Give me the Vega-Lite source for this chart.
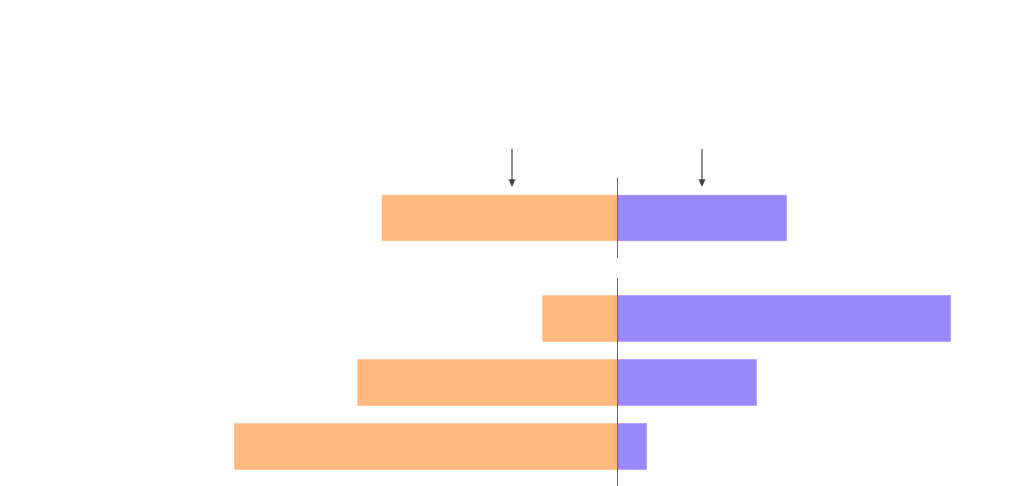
{
  "$schema": "https://vega.github.io/schema/vega-lite/v6.json",
  "padding": {"top": 148, "left": 0, "right": 0, "bottom": 0},
  "bounds": "flush",
  "config": {"view": {"stroke": null}},
  "datasets": {
    "bars": [
      {"section": "total", "row": "Total", "side": "left", "value": -23.6},
      {"section": "total", "row": "Total", "side": "right", "value": 16.95},
      {"section": "detail", "row": "A", "side": "left", "value": -7.55},
      {"section": "detail", "row": "A", "side": "right", "value": 33.35},
      {"section": "detail", "row": "B", "side": "left", "value": -26.05},
      {"section": "detail", "row": "B", "side": "right", "value": 13.95},
      {"section": "detail", "row": "C", "side": "left", "value": -38.35},
      {"section": "detail", "row": "C", "side": "right", "value": 2.95}
    ],
    "arrows": [
      {"label": "left", "value": -10.55},
      {"label": "right", "value": 8.45}
    ]
  },
  "spacing": 20,
  "vconcat": [
    {
      "width": 1024,
      "height": 80,
      "resolve": {"scale": {"y": "independent"}},
      "layer": [
        {
          "data": {"name": "bars"},
          "transform": [{"filter": "datum.section == 'total'"}],
          "mark": {"type": "bar", "stroke": "white", "strokeOpacity": 0.5, "strokeWidth": 1},
          "encoding": {
            "y": {"field": "row", "type": "nominal", "sort": null, "scale": {"paddingInner": 0.266, "paddingOuter": 0.266}, "axis": null},
            "x": {"field": "value", "type": "quantitative", "scale": {"domain": [-61.75, 40.65]}, "axis": null},
            "color": {"field": "side", "type": "nominal", "scale": {"domain": ["left", "right"], "range": ["#ffb97f", "#9888f8"]}, "legend": null}
          }
        },
        {
          "data": {"name": "bars"},
          "transform": [{"filter": "datum.section == 'total'"}],
          "mark": {"type": "rule", "color": "#666666", "strokeWidth": 1},
          "encoding": {
            "x": {"datum": 0, "type": "quantitative", "scale": {"domain": [-61.75, 40.65]}, "axis": null}
          }
        },
        {
          "data": {"name": "arrows"},
          "mark": {"type": "rule", "color": "#444444", "strokeWidth": 1.2},
          "encoding": {
            "x": {"field": "value", "type": "quantitative", "scale": {"domain": [-61.75, 40.65]}, "axis": null},
            "y": {"datum": 1.3625, "type": "quantitative", "scale": {"domain": [0, 1]}, "axis": null},
            "y2": {"datum": 0.93}
          }
        },
        {
          "data": {"name": "arrows"},
          "mark": {"type": "point", "shape": "M-1,-2.2L1,-2.2L0,0Z", "filled": true, "color": "#444444", "opacity": 1, "size": 49},
          "encoding": {
            "x": {"field": "value", "type": "quantitative", "scale": {"domain": [-61.75, 40.65]}, "axis": null},
            "y": {"datum": 0.8875, "type": "quantitative", "scale": {"domain": [0, 1]}, "axis": null}
          }
        }
      ]
    },
    {
      "width": 1024,
      "height": 209,
      "data": {"name": "bars"},
      "transform": [{"filter": "datum.section == 'detail'"}],
      "layer": [
        {
          "mark": {"type": "bar", "stroke": "white", "strokeOpacity": 0.5, "strokeWidth": 1},
          "encoding": {
            "y": {"field": "row", "type": "nominal", "sort": null, "scale": {"paddingInner": 0.266, "paddingOuter": 0.266}, "axis": null},
            "x": {"field": "value", "type": "quantitative", "scale": {"domain": [-61.75, 40.65]}, "axis": null},
            "color": {"field": "side", "type": "nominal", "scale": {"domain": ["left", "right"], "range": ["#ffb97f", "#9888f8"]}, "legend": null}
          }
        },
        {
          "mark": {"type": "rule", "color": "#666666", "strokeWidth": 1},
          "encoding": {
            "x": {"datum": 0, "type": "quantitative", "scale": {"domain": [-61.75, 40.65]}, "axis": null}
          }
        }
      ]
    }
  ]
}
